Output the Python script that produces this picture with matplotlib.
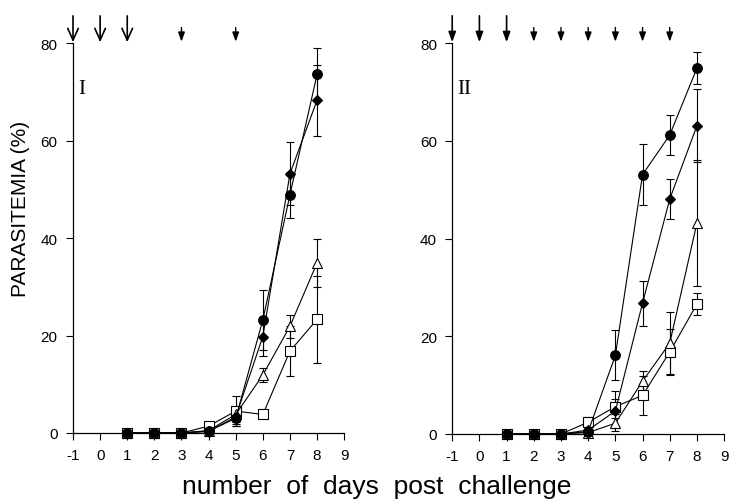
import matplotlib
matplotlib.use("Agg")
import matplotlib.pyplot as plt

plt.rcParams['font.family'] = ['Liberation Sans', 'DejaVu Sans']
plt.rcParams['axes.unicode_minus'] = False

days = [1, 2, 3, 4, 5, 6, 7, 8]

# panel I
p1_circle = [0, 0, 0, 0.4, 3.0, 23.2, 48.9, 73.6]
p1_circle_err = [0, 0, 0, 0.3, 1.5, 6.2, 4.7, 5.4]
p1_diamond = [0, 0, 0, 0.3, 3.3, 19.8, 53.2, 68.3]
p1_diamond_err = [0, 0, 0, 0.2, 1.5, 3.9, 6.5, 7.3]
p1_triangle = [0, 0, 0, 0.5, 3.8, 11.9, 21.9, 34.9]
p1_triangle_err = [0, 0, 0, 0.3, 1.5, 1.5, 2.4, 4.9]
p1_square = [0, 0, 0, 1.4, 4.5, 3.8, 16.8, 23.3]
p1_square_err = [0, 0, 0, 0.5, 3.0, 0.5, 5.2, 9.0]

# panel II
p2_circle = [0, 0, 0, 0.5, 16.1, 53.1, 61.2, 74.9]
p2_circle_err = [0, 0, 0, 0.3, 5.1, 6.2, 4.0, 3.3]
p2_diamond = [0, 0, 0, 0.8, 4.7, 26.8, 48.1, 63.1]
p2_diamond_err = [0, 0, 0, 0.4, 4.0, 4.6, 4.0, 7.5]
p2_triangle = [0, 0, 0, 0.3, 2.2, 10.8, 18.6, 43.2]
p2_triangle_err = [0, 0, 0, 0.2, 1.0, 2.0, 6.4, 12.9]
p2_square = [0, 0, 0, 2.4, 5.6, 7.9, 16.8, 26.6]
p2_square_err = [0, 0, 0, 1.0, 1.5, 4.0, 4.7, 2.2]

# injection days (big = first series, small = boosters)
p1_big_arrows = [-1, 0, 1]
p1_small_arrows = [3, 5]
p2_big_arrows = [-1, 0, 1]
p2_small_arrows = [2, 3, 4, 5, 6, 7]

x_ticks = list(range(-1, 10))
y_ticks = [0, 20, 40, 60, 80]

fig = plt.figure(figsize=(7.45, 5.02), dpi=100)
ax1 = fig.add_axes([0.098, 0.1355, 0.364, 0.7765])
ax2 = fig.add_axes([0.607, 0.1335, 0.365, 0.7785])


def draw_panel(ax, series, big, small, big_style, label, label_x):
    for y, err, marker, face, ms in series:
        ax.errorbar(days, y, yerr=err, fmt='-', color='black', lw=0.8,
                    elinewidth=0.8, capsize=3, capthick=0.8,
                    marker=marker, mfc=face, mec='black', mew=0.8, ms=ms,
                    clip_on=False, zorder=3)
    for x in big:
        ax.annotate('', xy=(x, 80.2), xytext=(x, 85.6), xycoords='data',
                    annotation_clip=False,
                    arrowprops=dict(arrowstyle=big_style, color='black', lw=1.2,
                                    shrinkA=0, shrinkB=0, mutation_scale=10))
    for x in small:
        ax.annotate('', xy=(x, 80.3), xytext=(x, 83.2), xycoords='data',
                    annotation_clip=False,
                    arrowprops=dict(arrowstyle='-|>,head_length=0.55,head_width=0.2',
                                    color='black', lw=1.0,
                                    shrinkA=0, shrinkB=0, mutation_scale=10))
    ax.text(label_x, 70.8, label, family='Liberation Serif', fontsize=15,
            ha='center', va='center')
    ax.set_xlim(-1, 9)
    ax.set_ylim(0, 80)
    ax.set_xticks(x_ticks)
    ax.set_yticks(y_ticks)
    ax.tick_params(direction='out', length=5, width=0.8, labelsize=11, pad=6)
    for s in ['top', 'right']:
        ax.spines[s].set_visible(False)
    for s in ['left', 'bottom']:
        ax.spines[s].set_linewidth(0.9)


draw_panel(ax1,
           [(p1_square, p1_square_err, 's', 'white', 6.5),
            (p1_triangle, p1_triangle_err, '^', 'white', 7),
            (p1_diamond, p1_diamond_err, 'D', 'black', 5.5),
            (p1_circle, p1_circle_err, 'o', 'black', 7)],
           p1_big_arrows, p1_small_arrows,
           '->,head_length=0.85,head_width=0.38', 'I', -0.67)

draw_panel(ax2,
           [(p2_square, p2_square_err, 's', 'white', 6.5),
            (p2_triangle, p2_triangle_err, '^', 'white', 7),
            (p2_diamond, p2_diamond_err, 'D', 'black', 5.5),
            (p2_circle, p2_circle_err, 'o', 'black', 7)],
           p2_big_arrows, p2_small_arrows,
           '-|>,head_length=0.6,head_width=0.22', 'II', -0.56)

fig.text(0.028, 0.584, 'PARASITEMIA (%)', rotation=90, fontsize=15,
         ha='center', va='center')
fig.text(0.506, 0.03, 'number  of  days  post  challenge', fontsize=19,
         ha='center', va='center')

fig.savefig('out.png', dpi=100, facecolor='white')
